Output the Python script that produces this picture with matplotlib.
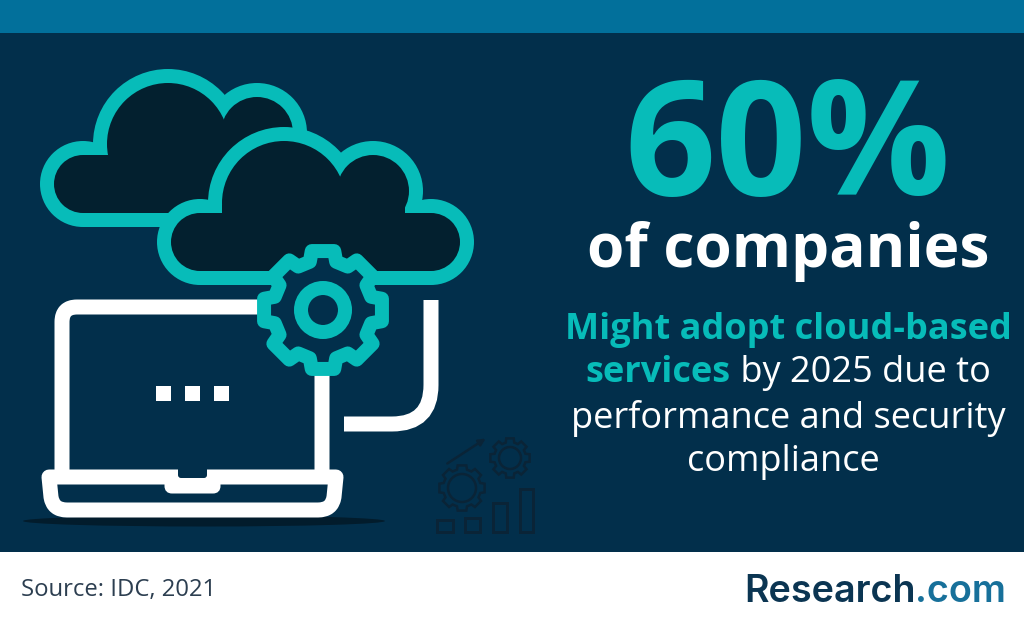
import matplotlib
matplotlib.use('Agg')
import matplotlib.pyplot as plt
import numpy as np
from matplotlib.patches import Circle, Rectangle, FancyBboxPatch, PathPatch, Ellipse, Polygon
from matplotlib.path import Path

plt.rcParams['font.family'] = ['Open Sans', 'DejaVu Sans']

# texts
headline = '60%'
subhead = 'of companies'
teal_line = 'Might adopt cloud-based'
mixed_teal = 'services'
mixed_white = ' by 2025 due to'
white_lines = ['performance and security', 'compliance']
source = 'Source: IDC, 2021'
logo_dark = 'Research'
logo_blue = '.com'

# colours
NAVY = '#022f4b'
BAND = '#02709b'
TEAL = '#07bcb9'
DARK = '#03202f'
SHADOW = '#021c2c'
ICON = '#0a2437'
WHITE = '#ffffff'

# icon geometry, pixels of the picture
cloud_back = [(168, 144, 75), (257, 133, 50), (83, 184, 43)]
cloud_back_body = (83, 155, 174, 72)
cloud_back_fill = (150, 150, 100, 40)
cloud_front = [(284, 203, 76), (373, 191, 50), (200, 242, 43), (431, 242, 43)]
cloud_front_body = (200, 213, 231, 72)
cloud_front_fill = (222, 205, 183, 40)
gear_centre = (323, 310)
dots_x = [156, 185, 214]
icon_bars = [(437, 520, 16, 12), (465, 518, 15, 14), (493, 503, 14, 29), (520, 489, 13, 43)]
icon_gears = [(510, 458, 20), (462, 488, 23)]

fig = plt.figure(figsize=(10.24, 6.25), dpi=100)
ax = fig.add_axes([0, 0, 1, 1])
ax.set_xlim(0, 1024)
ax.set_ylim(625, 0)
ax.axis('off')


def lw(px):
    return px * 0.72


def cloud(circles, body, fill, stroke=14):
    x, y, w, h = body
    for cx, cy, r in circles:
        ax.add_patch(Circle((cx, cy), r, fc=TEAL, ec='none'))
    ax.add_patch(Rectangle((x, y), w, h, fc=TEAL, ec='none'))
    for cx, cy, r in circles:
        ax.add_patch(Circle((cx, cy), r - stroke, fc=DARK, ec='none'))
    ax.add_patch(Rectangle((x, y), w, h - stroke, fc=DARK, ec='none'))
    ax.add_patch(Rectangle(fill[:2], fill[2], fill[3], fc=DARK, ec='none'))


def gear_points(cx, cy, r_out, r_in, teeth=8):
    pts = []
    step = 2 * np.pi / teeth
    for i in range(teeth):
        a = i * step - np.pi / 2
        for frac, r in [(-0.34, r_in), (-0.24, r_out), (0.24, r_out), (0.34, r_in)]:
            pts.append((cx + r * np.cos(a + frac * step), cy + r * np.sin(a + frac * step)))
    return pts


# page
ax.add_patch(Rectangle((0, 0), 1024, 552, fc=NAVY, ec='none'))
ax.add_patch(Rectangle((0, 0), 1024, 33, fc=BAND, ec='none'))
ax.add_patch(Rectangle((0, 552), 1024, 73, fc=WHITE, ec='none'))

# laptop
ax.add_patch(Ellipse((204, 521), 362, 11, fc=SHADOW, ec='none'))
screen = Path([(62, 472), (62, 322), (62, 307), (77, 307), (322, 307), (322, 472)],
              [Path.MOVETO, Path.LINETO, Path.CURVE3, Path.CURVE3, Path.LINETO, Path.LINETO])
ax.add_patch(PathPatch(screen, fc='none', ec=WHITE, lw=lw(15), capstyle='butt', joinstyle='round'))
base = Path([(49, 477), (336, 477), (334, 497), (332, 510), (318, 510), (67, 510), (53, 510), (51, 497), (49, 477)],
            [Path.MOVETO, Path.LINETO, Path.LINETO, Path.CURVE3, Path.CURVE3, Path.LINETO, Path.CURVE3, Path.CURVE3, Path.CLOSEPOLY])
ax.add_patch(PathPatch(base, fc=NAVY, ec=WHITE, lw=lw(15), joinstyle='round'))
ax.add_patch(FancyBboxPatch((168, 480), 49, 10, boxstyle='round,pad=0,rounding_size=4', fc=WHITE, ec=WHITE, lw=lw(7)))
ax.add_patch(FancyBboxPatch((178, 466), 29, 12, boxstyle='round,pad=0,rounding_size=3', fc=NAVY, ec='none'))
for x in dots_x:
    ax.add_patch(Rectangle((x, 386), 15, 15, fc=WHITE, ec='none'))

# cable
cable = Path([(431, 300), (431, 385), (431, 424), (392, 424), (344, 424)],
             [Path.MOVETO, Path.LINETO, Path.CURVE3, Path.CURVE3, Path.LINETO])
ax.add_patch(PathPatch(cable, fc='none', ec=WHITE, lw=lw(15), capstyle='butt'))

# clouds and gear
cloud(cloud_back, cloud_back_body, cloud_back_fill)
cloud(cloud_front, cloud_front_body, cloud_front_fill)
ax.add_patch(Polygon(gear_points(*gear_centre, 60, 50), closed=True, fc=NAVY, ec=TEAL, lw=lw(14), joinstyle='round'))
ax.add_patch(Circle(gear_centre, 22, fc=NAVY, ec=TEAL, lw=lw(14)))

# faint icon
for x, y, w, h in icon_bars:
    ax.add_patch(Rectangle((x, y), w, h, fc='none', ec=ICON, lw=lw(3)))
for cx, cy, r in icon_gears:
    ax.add_patch(Polygon(gear_points(cx, cy, r, r - 4), closed=True, fc='none', ec=ICON, lw=lw(2.5)))
    ax.add_patch(Circle((cx, cy), r - 9, fc='none', ec=ICON, lw=lw(2.5)))
ax.annotate('', xy=(488, 437), xytext=(445, 465),
            arrowprops=dict(arrowstyle='-|>', color=ICON, lw=lw(2.5), mutation_scale=10))

# right hand text
ax.text(788, 195, headline, color=TEAL, fontsize=115, fontweight='bold', ha='center', va='baseline')
ax.text(788, 267, subhead, color=WHITE, fontsize=43.4, fontweight='bold', ha='center', va='baseline')
ax.text(788, 339, teal_line, color=TEAL, fontsize=26, fontweight='bold', ha='center', va='baseline')

renderer = fig.canvas.get_renderer()
t1 = ax.text(0, 382, mixed_teal, color=TEAL, fontsize=26, fontweight='bold', va='baseline')
t2 = ax.text(0, 382, mixed_white, color=WHITE, fontsize=26, va='baseline')
w1 = t1.get_window_extent(renderer).width
w2 = t2.get_window_extent(renderer).width
start = 788 - (w1 + w2) / 2
t1.set_x(start)
t2.set_x(start + w1)

ax.text(788, 428, white_lines[0], color=WHITE, fontsize=26, ha='center', va='baseline')
ax.text(783, 471, white_lines[1], color=WHITE, fontsize=26, ha='center', va='baseline')

# footer
ax.text(21, 596, source, color='#2c3e50', fontsize=17.2, va='baseline')
l1 = ax.text(744, 602, logo_dark, color='#0b3552', fontsize=27.2, fontweight='semibold', family=['Inter', 'DejaVu Sans'], va='baseline')
w3 = l1.get_window_extent(renderer).width
ax.text(744 + w3, 602, logo_blue, color='#17709a', fontsize=27.2, fontweight='semibold', family=['Inter', 'DejaVu Sans'], va='baseline')

fig.savefig('out.png', dpi=100, facecolor=WHITE)
